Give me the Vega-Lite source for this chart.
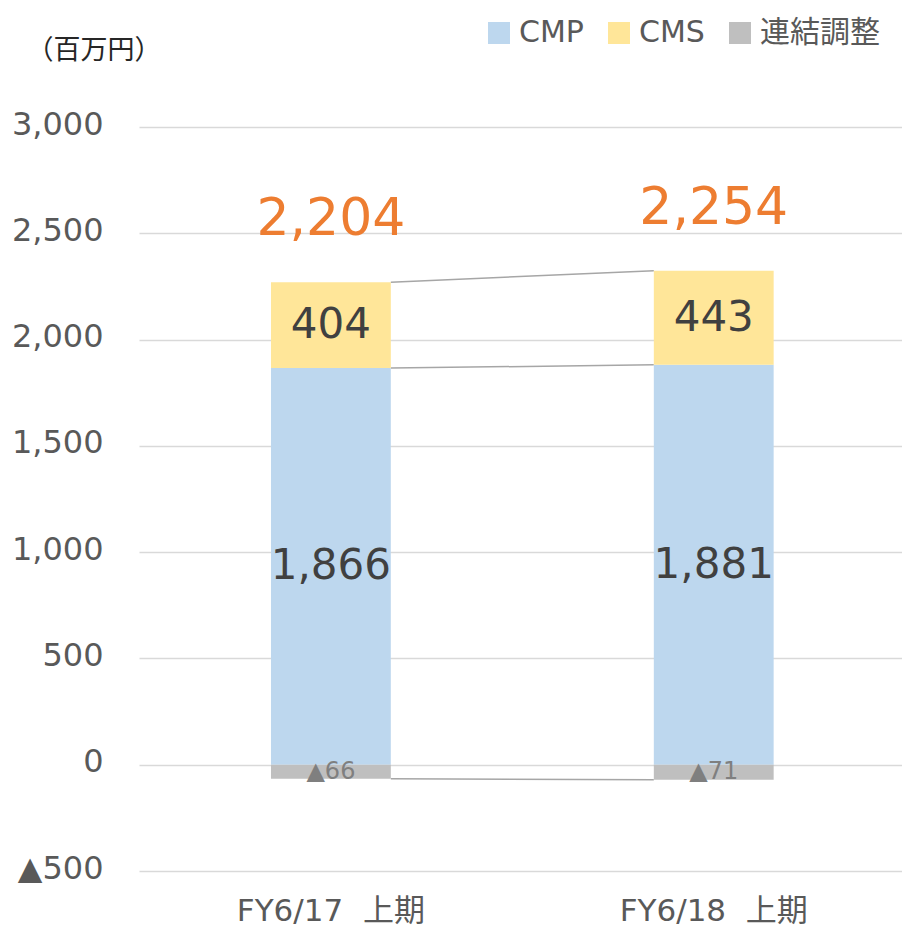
{
  "$schema": "https://vega.github.io/schema/vega-lite/v6.json",
  "width": 763,
  "height": 744,
  "autosize": "none",
  "padding": {"left": 139, "top": 127, "right": 0, "bottom": 56},
  "background": "white",
  "config": {
    "view": {"stroke": null},
    "font": "DejaVu Sans, Noto Sans CJK JP"
  },
  "datasets": {
    "main": [
      {"cat": "FY6/17\u00a0\u00a0上期", "seg": "CMP", "value": 1866, "total": 2204},
      {"cat": "FY6/17\u00a0\u00a0上期", "seg": "CMS", "value": 404, "total": 2204},
      {"cat": "FY6/17\u00a0\u00a0上期", "seg": "連結調整", "value": -66, "total": 2204},
      {"cat": "FY6/18\u00a0\u00a0上期", "seg": "CMP", "value": 1881, "total": 2254},
      {"cat": "FY6/18\u00a0\u00a0上期", "seg": "CMS", "value": 443, "total": 2254},
      {"cat": "FY6/18\u00a0\u00a0上期", "seg": "連結調整", "value": -71, "total": 2254}
    ],
    "links": [
      {"a": "FY6/17\u00a0\u00a0上期", "b": "FY6/18\u00a0\u00a0上期", "v1": 2270, "v2": 2324},
      {"a": "FY6/17\u00a0\u00a0上期", "b": "FY6/18\u00a0\u00a0上期", "v1": 1866, "v2": 1881},
      {"a": "FY6/17\u00a0\u00a0上期", "b": "FY6/18\u00a0\u00a0上期", "v1": -66, "v2": -71}
    ]
  },
  "encoding": {
    "x": {
      "field": "cat",
      "type": "nominal",
      "sort": null,
      "scale": {"type": "band", "paddingInner": 0.687, "paddingOuter": 0.34, "align": 0.507},
      "axis": {
        "title": null,
        "labelAngle": 0,
        "labelFontSize": 31,
        "labelColor": "#595959",
        "labelLimit": 0,
        "domain": false,
        "ticks": false,
        "labelPadding": 25,
        "grid": false
      }
    }
  },
  "layer": [
    {
      "data": {"name": "links"},
      "mark": {"type": "rule", "stroke": "#A6A6A6", "strokeWidth": 1.5},
      "encoding": {
        "x": {"field": "a", "type": "nominal", "bandPosition": 1},
        "x2": {"field": "b", "bandPosition": 0},
        "y": {"field": "v1", "type": "quantitative"},
        "y2": {"field": "v2"}
      }
    },
    {
      "data": {"name": "main"},
      "transform": [
        {"calculate": "indexof(['CMP', 'CMS', '連結調整'], datum.seg)", "as": "ord"}
      ],
      "mark": {"type": "bar"},
      "encoding": {
        "y": {
          "field": "value",
          "type": "quantitative",
          "stack": "zero",
          "scale": {"domain": [-500, 3000], "nice": false, "zero": false},
          "axis": {
            "values": [-500, 0, 500, 1000, 1500, 2000, 2500, 3000],
            "labelExpr": "datum.value < 0 ? '▲' + format(-datum.value, ',') : format(datum.value, ',')",
            "labelFontSize": 32,
            "labelColor": "#595959",
            "labelPadding": 36,
            "labelOffset": -3,
            "domain": false,
            "ticks": false,
            "grid": true,
            "gridColor": "#D9D9D9",
            "gridWidth": 1.5,
            "title": "（百万円）",
            "titleAngle": 0,
            "titleAlign": "left",
            "titleBaseline": "middle",
            "titleX": -113,
            "titleY": -77,
            "titleFontSize": 27,
            "titleFontWeight": "normal",
            "titleColor": "#262626"
          }
        },
        "order": {"field": "ord", "type": "quantitative", "sort": "ascending"},
        "color": {
          "field": "seg",
          "type": "nominal",
          "scale": {"domain": ["CMP", "CMS", "連結調整"], "range": ["#BDD7EE", "#FFE699", "#BFBFBF"]},
          "legend": {
            "title": null,
            "orient": "none",
            "direction": "horizontal",
            "legendX": 345,
            "legendY": -109,
            "symbolType": "square",
            "symbolSize": 484,
            "symbolStrokeWidth": 0,
            "symbolOpacity": 1,
            "labelFontSize": 30,
            "labelColor": "#595959",
            "labelOffset": 5,
            "columnPadding": 20
          }
        }
      }
    },
    {
      "data": {"name": "main"},
      "transform": [
        {"stack": "value", "groupby": ["cat"], "sort": [{"field": "seg"}], "as": ["v0", "v1"]},
        {"calculate": "(datum.v0 + datum.v1) / 2", "as": "mid"},
        {"filter": "datum.value > 0"}
      ],
      "mark": {"type": "text", "fontSize": 42, "color": "#404040", "baseline": "middle"},
      "encoding": {
        "y": {"field": "mid", "type": "quantitative"},
        "text": {"field": "value", "type": "quantitative", "format": ","}
      }
    },
    {
      "data": {"name": "main"},
      "transform": [
        {"stack": "value", "groupby": ["cat"], "sort": [{"field": "seg"}], "as": ["v0", "v1"]},
        {"calculate": "(datum.v0 + datum.v1) / 2", "as": "mid"},
        {"filter": "datum.value < 0"},
        {"calculate": "'▲' + format(-datum.value, ',')", "as": "lbl"}
      ],
      "mark": {"type": "text", "fontSize": 24, "color": "#7F7F7F", "baseline": "middle"},
      "encoding": {
        "y": {"field": "mid", "type": "quantitative"},
        "text": {"field": "lbl", "type": "nominal"}
      }
    },
    {
      "data": {"name": "main"},
      "transform": [
        {"calculate": "max(datum.value, 0)", "as": "pos"},
        {"aggregate": [{"op": "max", "field": "total", "as": "total"}, {"op": "sum", "field": "pos", "as": "top"}], "groupby": ["cat"]}
      ],
      "mark": {"type": "text", "fontSize": 52, "color": "#ED7D31", "baseline": "alphabetic", "dy": -47},
      "encoding": {
        "y": {"field": "top", "type": "quantitative"},
        "text": {"field": "total", "type": "quantitative", "format": ","}
      }
    }
  ]
}
